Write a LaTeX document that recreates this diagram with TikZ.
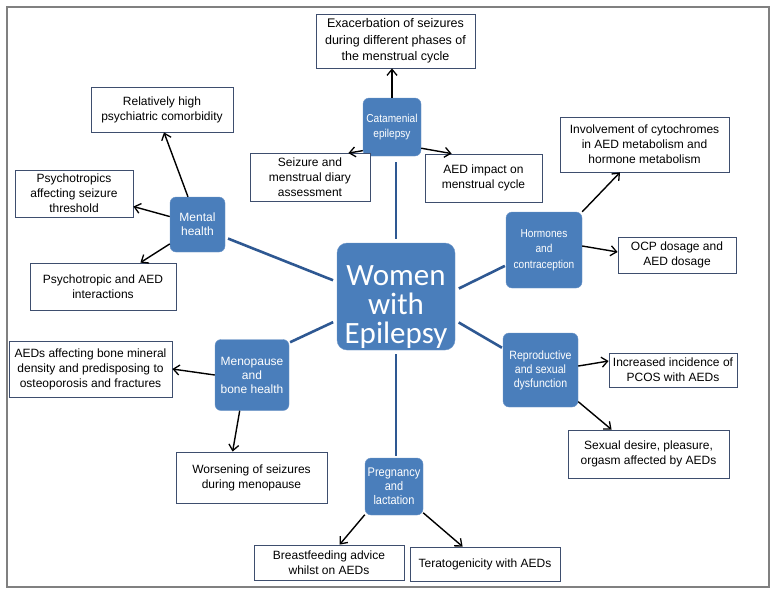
\documentclass[tikz,border=0pt]{standalone}
\usepackage{fontspec}
\setmainfont{Liberation Sans}
\newfontfamily\calibfont{Carlito}
\newfontfamily\narrowfont[FakeStretch=0.88]{Liberation Sans}
\usetikzlibrary{arrows.meta}

\definecolor{hubblue}{RGB}{74,126,187}
\definecolor{hubedge}{RGB}{110,150,200}
\definecolor{linkblue}{RGB}{46,88,146}
\definecolor{boxline}{RGB}{62,78,110}
\definecolor{framegray}{RGB}{128,128,128}

\begin{document}
\begin{tikzpicture}[x=1pt,y=-1pt,
  topic/.style={draw=hubedge,fill=hubblue,rounded corners=6pt,text=white,align=center,
    font=\narrowfont\fontsize{11.5}{14.5}\selectfont,inner sep=0pt},
  plaintopic/.style={topic,font=\fontsize{12}{14}\selectfont},
  note/.style={draw=boxline,line width=0.8pt,fill=white,align=center,
    font=\fontsize{12}{15}\selectfont,inner sep=0pt},
  link/.style={draw=linkblue,line width=2.6pt},
  arr/.style={draw=black,line width=1.4pt,-{Straight Barb[length=6pt,width=10pt,line width=1.3pt]}}]
\useasboundingbox (0,0) rectangle (777,595);
\draw [framegray,line width=1.5pt] (7,7) rectangle (769,587);
% hub and topics
\node [topic,minimum width=118pt,minimum height=107pt,rounded corners=10pt,
  font=\calibfont\fontsize{31}{29}\selectfont] (women) at (396,296.5) {\rule{0pt}{40pt}Women\\with\\Epilepsy};
\node [topic,minimum width=58pt,minimum height=58pt] (cat) at (392,127) {Catamenial\\epilepsy};
\node [plaintopic,minimum width=55pt,minimum height=55pt] (mental) at (197.5,224.5) {Mental\\health};
\node [topic,minimum width=76pt,minimum height=76pt,
  font=\narrowfont\fontsize{11.5}{15.5}\selectfont] (horm) at (544,250) {Hormones\\and\\contraception};
\node [topic,minimum width=75pt,minimum height=74pt,
  font=\narrowfont\fontsize{12}{14}\selectfont] (repro) at (540.5,370) {Reproductive\\and sexual\\dysfunction};
\node [plaintopic,minimum width=74pt,minimum height=71pt] (meno) at (252,375) {Menopause\\and\\bone health};
\node [topic,minimum width=58pt,minimum height=57pt,
  font=\narrowfont\fontsize{12.5}{14}\selectfont] (preg) at (394,486.5) {Pregnancy\\and\\lactation};
% text boxes
\node [note,minimum width=159pt,minimum height=54pt,
  font=\fontsize{12.5}{16.5}\selectfont] (exac) at (395.5,41) {Exacerbation of seizures\\during different phases of\\the menstrual cycle};
\node [note,minimum width=142pt,minimum height=45pt] (rel) at (162,109.5) {Relatively high\\psychiatric comorbidity};
\node [note,minimum width=118pt,minimum height=47pt] (psych) at (74,193.5) {Psychotropics\\affecting seizure\\threshold};
\node [note,minimum width=146pt,minimum height=47pt] (inter) at (103,286.5) {Psychotropic and AED\\interactions};
\node [note,minimum width=120pt,minimum height=48pt] (diary) at (310,177.5) {Seizure and\\menstrual diary\\assessment};
\node [note,minimum width=117pt,minimum height=48pt] (aedimp) at (483.5,178) {AED impact on\\menstrual cycle};
\node [note,minimum width=169pt,minimum height=55pt] (invol) at (644.5,144.5) {Involvement of cytochromes\\in AED metabolism and\\hormone metabolism};
\node [note,minimum width=118pt,minimum height=36pt] (ocp) at (677,255) {OCP dosage and\\AED dosage};
\node [note,minimum width=128pt,minimum height=34pt] (incr) at (673,370) {Increased incidence of\\PCOS with AEDs};
\node [note,minimum width=161pt,minimum height=48pt] (sex) at (648.5,454) {Sexual desire, pleasure,\\orgasm affected by AEDs};
\node [note,minimum width=163pt,minimum height=56pt] (bone) at (90.5,369) {AEDs affecting bone mineral\\density and predisposing to\\osteoporosis and fractures};
\node [note,minimum width=151pt,minimum height=51pt] (worsen) at (251.5,477.5) {Worsening of seizures\\during menopause};
\node [note,minimum width=150pt,minimum height=35pt] (breast) at (329,562.5) {Breastfeeding advice\\whilst on AEDs};
\node [note,minimum width=150pt,minimum height=34pt] (terat) at (485,564) {Teratogenicity with AEDs};
% hub links
\draw [link,shorten <=4pt,shorten >=6pt] (women.north) -- (women.north |- cat.south);
\draw [link,shorten <=4pt,shorten >=3pt] (women.166) -- (mental.-25);
\draw [link,shorten <=4pt,shorten >=1pt] (women.6) -- (horm.202);
\draw [link,shorten <=4pt,shorten >=1pt] (women.338) -- (repro.150);
\draw [link,shorten <=4pt,shorten >=1pt] (women.202) -- (meno.41);
\draw [link,shorten <=4pt,shorten >=2pt] (women.south) -- (women.south |- preg.north);
% arrows to text boxes
\draw [arr] (cat.north) -- (cat.north |- exac.south);
\draw [arr] (cat.219) -- ([xshift=-22pt]diary.north east);
\draw [arr] (cat.324) -- ([xshift=27pt]aedimp.north west);
\draw [arr] (mental.109) -- ([xshift=2pt]rel.south);
\draw [arr] (mental.164) -- ([yshift=-13pt]psych.east);
\draw [arr] (mental.215) -- ([xshift=-36pt]inter.north east);
\draw [arr] (horm.north east) -- ([xshift=-24.5pt]invol.south);
\draw [arr] (horm.6) -- ([yshift=3pt]ocp.west);
\draw [arr] (repro.6) -- ([yshift=9pt]incr.west);
\draw [arr] (repro.320) -- ([xshift=44pt]sex.north west);
\draw [arr] (meno.west) -- (bone.east);
\draw [arr] (meno.251) -- ([xshift=57pt]worsen.north west);
\draw [arr] (preg.224) -- ([xshift=86pt]breast.north west);
\draw [arr] (preg.318) -- ([xshift=53pt]terat.north west);
\end{tikzpicture}
\end{document}
